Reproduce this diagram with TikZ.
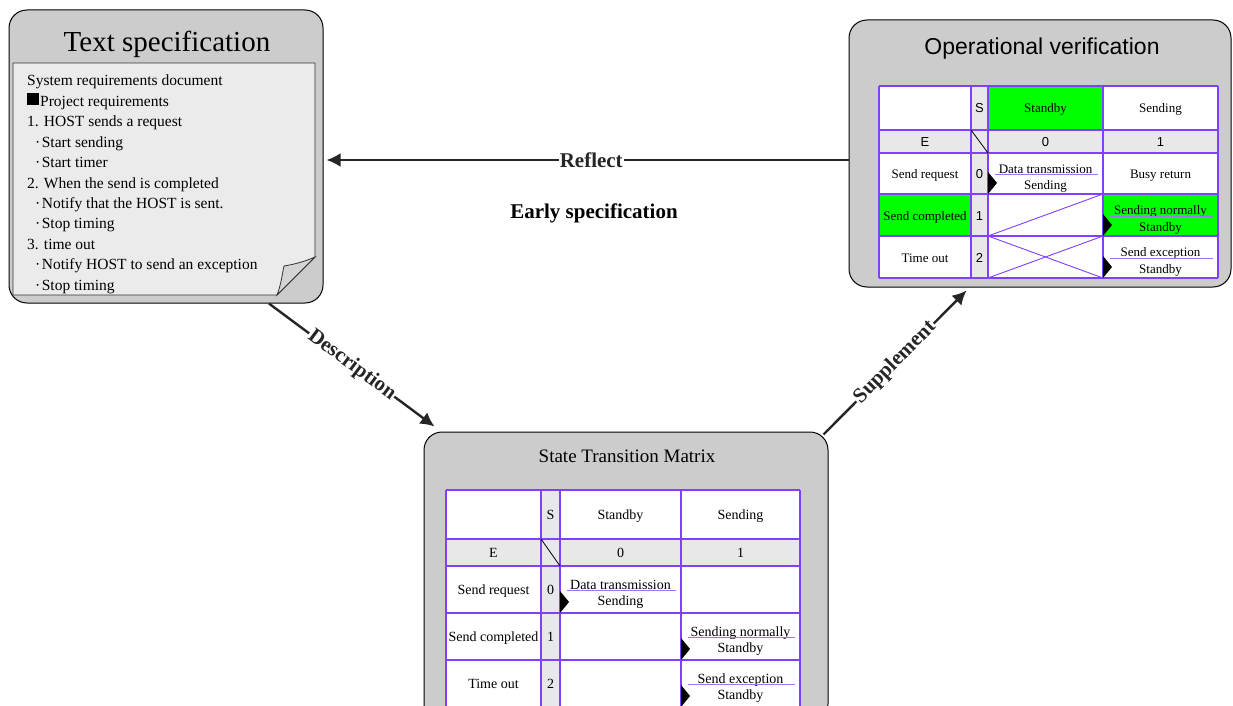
\documentclass[tikz,border=0pt]{standalone}
\usepackage{fontspec}
\setmainfont{Liberation Serif}
\newfontfamily\arialfont{Liberation Sans}
\usetikzlibrary{arrows.meta}
\definecolor{boxgray}{HTML}{CCCCCC}
\definecolor{pagegray}{HTML}{EBEBEB}
\definecolor{cellgray}{HTML}{E8E8E8}
\definecolor{gridviolet}{HTML}{8040FF}
\definecolor{ulviolet}{HTML}{A070FF}
\definecolor{brightgreen}{HTML}{00FF00}
\definecolor{arrowink}{HTML}{262626}
\newcommand{\spdot}{\hspace*{8pt}·\hspace{1.5pt}}
\newcommand{\optabfont}{\fontsize{13}{15}\selectfont}
\newcommand{\opsansfont}{\arialfont\fontsize{13}{15}\selectfont}
\newcommand{\stmtabfont}{\fontsize{14}{16}\selectfont}
% action cell: name, left x, right x, top y, bottom y, action, next state
\newcommand{\actcell}[7]{%
  \node[cell] (#1a) at ({(#2+#3)/2},{(#4+#5)/2-5.5}) {#6};
  \node[cell] (#1b) at ({(#2+#3)/2},{(#4+#5)/2+11}) {#7};
  \draw[uline] ({#2+7},{(#4+#5)/2+1}) -- ({#3-5},{(#4+#5)/2+1});
  \fill ({#2},{#5}) -- ({#2},{#5-22}) -- ({#2+9},{#5-11}) -- cycle;
}

\begin{document}
\begin{tikzpicture}[
  x=1pt,
  y=-1pt,
  every node/.style={inner sep=0pt},
  panel/.style={draw=black, line width=1pt, fill=boxgray, rounded corners=18pt},
  sheet/.style={draw=black!80, line width=0.8pt, fill=pagegray},
  fold/.style={draw=black!80, line width=0.8pt, fill=boxgray!85},
  specline/.style={anchor=base west, font=\fontsize{15.5}{18}\selectfont},
  grid/.style={gridviolet, line width=1.2pt},
  cross/.style={gridviolet, line width=0.9pt},
  uline/.style={ulviolet, line width=1pt},
  cell/.style={text height=10pt, text depth=0pt},
  flow/.style={arrowink, line width=2.4pt, -{Latex[length=14pt, width=14pt]}},
  flowlabel/.style={font=\bfseries\fontsize{21}{24}\selectfont, text=arrowink,
    fill=white, inner sep=1pt}
]
\useasboundingbox (0,0) rectangle (1233,706);
\clip (0,0) rectangle (1233,706);

% =====================================================================
% panels
% =====================================================================
\node[panel, minimum width=314pt, minimum height=293pt] (spec) at (166,156.5) {};
\node[panel, minimum width=382pt, minimum height=267pt] (verif) at (1040,153.5) {};
\node[panel, minimum width=404pt, minimum height=290pt] (stm) at (626,577) {};

% =====================================================================
% text specification
% =====================================================================
\node[anchor=base, font=\fontsize{29}{34}\selectfont] (spectitle) at (167,52)
  {Text specification};
\filldraw[sheet] (13,63) -- (315,63) -- (315,257) -- (277,295) -- (13,295) -- cycle;
\filldraw[fold] (277,295) .. controls (281,285) and (282,275) .. (284,266)
  .. controls (296,264) and (306,261) .. (315,257) -- cycle;
\foreach \t [count=\i] in {
  {System requirements document},
  {\rule[1pt]{12pt}{12pt}\hspace{1pt}Project requirements},
  {1. HOST sends a request},
  {\spdot Start sending},
  {\spdot Start timer},
  {2. When the send is completed},
  {\spdot Notify that the HOST is sent.},
  {\spdot Stop timing},
  {3. time out},
  {\spdot Notify HOST to send an exception},
  {\spdot Stop timing}}
  \node[specline] (spec\i) at (27,{86+20.4*(\i-1)}) {\t};

% =====================================================================
% operational verification
% =====================================================================
\node[anchor=base, font=\arialfont\fontsize{23}{27}\selectfont] (veriftitle)
  at (1042,55) {Operational verification};
\begin{scope}[every node/.append style={font=\optabfont}]
  \fill[white] (879,86) rectangle (1218,278);
  \fill[cellgray] (971,86) rectangle (988,278);
  \fill[cellgray] (879,130) rectangle (1218,153);
  \fill[brightgreen] (988,86) rectangle (1103,130);
  \fill[brightgreen] (879,194) rectangle (971,236);
  \fill[brightgreen] (1103,194) rectangle (1218,236);
  \foreach \x in {879,971,988,1103,1218}
    \draw[grid] (\x,86) -- (\x,278);
  \foreach \y in {86,130,153,194,236,278}
    \draw[grid] (879,\y) -- (1218,\y);
  \draw[black, line width=0.8pt] (971,130) -- (988,153);
  \draw[cross] (988,236) -- (1103,194);
  \draw[cross] (988,236) -- (1103,278);
  \draw[cross] (988,278) -- (1103,236);

  \node[cell, font=\opsansfont] (opS) at (979.5,108) {S};
  \node[cell] (opstandby) at (1045.5,108) {Standby};
  \node[cell] (opsending) at (1160.5,108) {Sending};
  \node[cell, font=\opsansfont] (opE) at (925,141.5) {E};
  \node[cell, font=\opsansfont] (opzero) at (1045.5,141.5) {0};
  \node[cell, font=\opsansfont] (opone) at (1160.5,141.5) {1};

  \node[cell] (opreq) at (925,173.5) {Send request};
  \node[cell, font=\opsansfont] (opreqno) at (979.5,173.5) {0};
  \actcell{opreqtx}{988}{1103}{153}{194}{Data transmission}{Sending}
  \node[cell] (opbusy) at (1160.5,173.5) {Busy return};

  \node[cell] (opdone) at (925,215) {Send completed};
  \node[cell, font=\opsansfont] (opdoneno) at (979.5,215) {1};
  \actcell{opdonetx}{1103}{1218}{194}{236}{Sending normally}{Standby}

  \node[cell] (optime) at (925,257) {Time out};
  \node[cell, font=\opsansfont] (optimeno) at (979.5,257) {2};
  \actcell{optimetx}{1103}{1218}{236}{278}{Send exception}{Standby}
\end{scope}

% =====================================================================
% state transition matrix
% =====================================================================
\node[anchor=base, font=\fontsize{19}{23}\selectfont] (stmtitle) at (627,462)
  {State Transition Matrix};
\begin{scope}[every node/.append style={font=\stmtabfont}]
  \fill[white] (446,490) rectangle (800,707);
  \fill[cellgray] (541,490) rectangle (560,707);
  \fill[cellgray] (446,539) rectangle (800,566);
  \foreach \x in {446,541,560,681,800}
    \draw[grid] (\x,490) -- (\x,707);
  \foreach \y in {490,539,566,613,660,707}
    \draw[grid] (446,\y) -- (800,\y);
  \draw[black, line width=0.8pt] (541,539) -- (560,566);

  \node[cell] (stmS) at (550.5,514.5) {S};
  \node[cell] (stmstandby) at (620.5,514.5) {Standby};
  \node[cell] (stmsending) at (740.5,514.5) {Sending};
  \node[cell] (stmE) at (493.5,552.5) {E};
  \node[cell] (stmzero) at (620.5,552.5) {0};
  \node[cell] (stmone) at (740.5,552.5) {1};

  \node[cell] (stmreq) at (493.5,589.5) {Send request};
  \node[cell] (stmreqno) at (550.5,589.5) {0};
  \actcell{stmreqtx}{560}{681}{566}{613}{Data transmission}{Sending}

  \node[cell] (stmdone) at (493.5,636.5) {Send completed};
  \node[cell] (stmdoneno) at (550.5,636.5) {1};
  \actcell{stmdonetx}{681}{800}{613}{660}{Sending normally}{Standby}

  \node[cell] (stmtime) at (493.5,683.5) {Time out};
  \node[cell] (stmtimeno) at (550.5,683.5) {2};
  \actcell{stmtimetx}{681}{800}{660}{707}{Send exception}{Standby}
\end{scope}

% =====================================================================
% connectors
% =====================================================================
\coordinate (reflectstart) at ([yshift=-6.5pt]verif.west);
\draw[flow, shorten >=3pt] (reflectstart) -- (reflectstart -| spec.east)
  node[flowlabel, pos=0.49] (reflect) {Reflect};
\draw[flow] (spec.-55.5) -- ([shift={(11pt,5pt)}]stm.north west)
  node[flowlabel, sloped, midway] (descr) {Description};
\draw[flow] ([shift={(-5pt,-3pt)}]stm.north east) -- ([shift={(-73.5pt,-3pt)}]verif.south)
  node[flowlabel, sloped, midway] (suppl) {Supplement};

\node[font=\bfseries\fontsize{21}{24}\selectfont] (early) at (594,213)
  {Early specification};

\end{tikzpicture}
\end{document}
